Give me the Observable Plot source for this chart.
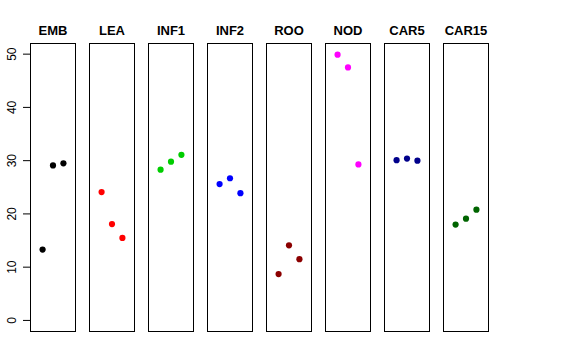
<!DOCTYPE html>
<html>
<head>
<meta charset="utf-8">
<script src="https://cdn.jsdelivr.net/npm/d3@7"></script>
<script src="https://cdn.jsdelivr.net/npm/@observablehq/plot@0.6"></script>
<style>
  body { margin: 0; background: #fff; }
</style>
</head>
<body>
<div id="chart"></div>
<script>
const categories = ["EMB", "LEA", "INF1", "INF2", "ROO", "NOD", "CAR5", "CAR15"];
const colors = ["#000000", "#FF0000", "#00CD00", "#0000FF", "#8B0000", "#FF00FF", "#00008B", "#006400"];
const EMB = [13.3, 29.1, 29.5];
const LEA = [24.1, 18.1, 15.5];
const INF1 = [28.3, 29.8, 31.1];
const INF2 = [25.6, 26.7, 23.9];
const ROO = [8.7, 14.1, 11.5];
const NOD = [49.9, 47.5, 29.3];
const CAR5 = [30.1, 30.4, 30.0];
const CAR15 = [18.0, 19.1, 20.8];
const yTicks = [0, 10, 20, 30, 40, 50];

const series = [EMB, LEA, INF1, INF2, ROO, NOD, CAR5, CAR15];
const data = [];
categories.forEach((c, i) => {
  series[i].forEach((v, j) => data.push({cat: c, idx: j + 1, value: v, color: colors[i]}));
});

const chart = Plot.plot({
  width: 576,
  height: 360,
  marginLeft: 29,
  marginRight: 88,
  marginTop: 43,
  marginBottom: 29,
  style: {fontFamily: "'Liberation Sans', Arial, Helvetica, sans-serif", fontSize: "12px", color: "#000", background: "#fff"},
  fx: {domain: categories, paddingInner: 0.239, paddingOuter: 0, axis: null},
  x: {domain: [-0.16, 4.16], axis: null},
  y: {domain: [-2.08, 52.0], axis: null},
  marks: [
    Plot.frame({stroke: "#000", strokeWidth: 1}),
    Plot.axisY({ticks: yTicks, tickSize: 7, tickPadding: 8, tickRotate: -90, fontSize: 12, stroke: "#000", label: null}),
    Plot.text(categories, {fx: d => d, text: d => d, frameAnchor: "top", lineAnchor: "bottom", dy: -9, fontSize: 13, fontWeight: "bold", fill: "#000"}),
    Plot.dot(data, {fx: "cat", x: "idx", y: "value", r: 3.1, fill: d => d.color, stroke: "none"})
  ]
});
document.getElementById("chart").appendChild(chart);
</script>
</body>
</html>
